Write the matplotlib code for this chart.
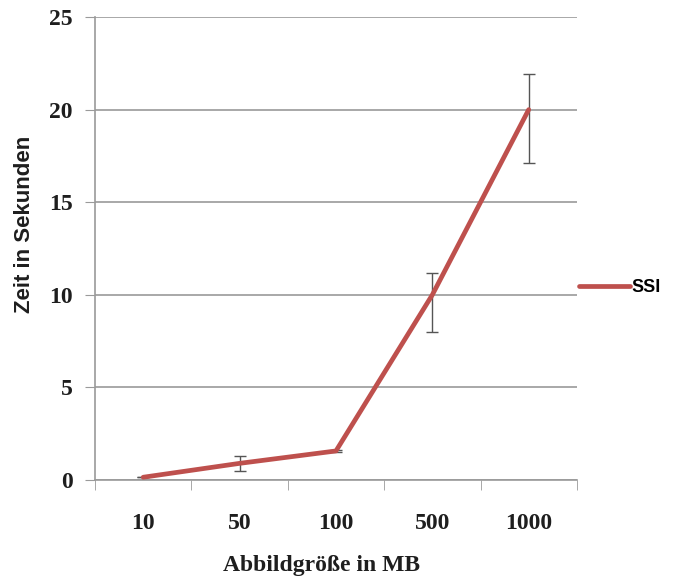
import matplotlib
matplotlib.use("Agg")
import matplotlib.pyplot as plt
import numpy as np

categories = ["10", "50", "100", "500", "1000"]
ssi_times = [0.15, 0.9, 1.57, 10.0, 20.0]
err_lower = [0.0, 0.4, 0.05, 2.0, 2.9]
err_upper = [0.0, 0.4, 0.05, 1.2, 1.9]
y_ticks = [0, 5, 10, 15, 20, 25]

line_color = "#BE504D"
grid_color = "#9A9A9A"
text_color = "#1E1E1E"

fig = plt.figure(figsize=(6.73, 5.81), dpi=100)
ax = fig.add_axes([0.1412, 0.1738, 0.7160, 0.7969])

x = np.arange(len(categories))
ax.errorbar(x, ssi_times, yerr=[err_lower, err_upper], fmt="none",
            ecolor="#555555", elinewidth=1.0, capsize=4, capthick=1.0, zorder=2)
ax.plot(x, ssi_times, color=line_color, linewidth=3.4, solid_capstyle="round",
        label="SSI", zorder=3)

ax.set_xlim(-0.5, len(categories) - 0.5)
ax.set_ylim(0, 25)
ax.set_yticks(y_ticks)
ax.yaxis.grid(True, color=grid_color, linewidth=1.2)
ax.set_axisbelow(True)

ax.set_xticks(x)
ax.set_xticklabels(categories)
ax.set_xticks(np.arange(len(categories) + 1) - 0.5, minor=True)
ax.tick_params(axis="x", which="major", length=0, pad=24)
ax.tick_params(axis="x", which="minor", length=7, color=grid_color, direction="out")
ax.tick_params(axis="y", length=7, color=grid_color, pad=9)

for lbl in ax.get_xticklabels() + ax.get_yticklabels():
    lbl.set_fontfamily("Liberation Serif")
    lbl.set_fontweight("bold")
    lbl.set_fontsize(17)
    lbl.set_color(text_color)

for side in ["top", "right"]:
    ax.spines[side].set_visible(False)
for side in ["left", "bottom"]:
    ax.spines[side].set_color(grid_color)
    ax.spines[side].set_linewidth(1.2)

ax.set_xlabel("Abbildgröße in MB", fontfamily="Liberation Serif", fontweight="bold",
              fontsize=17, color=text_color)
ax.xaxis.set_label_coords(0.471, -0.163)
ax.set_ylabel("Zeit in Sekunden", fontfamily="Liberation Sans", fontweight="bold",
              fontsize=16, color=text_color)
ax.yaxis.set_label_coords(-0.125, 0.553)

ax.legend(loc="center left", bbox_to_anchor=(0.99, 0.415), frameon=False,
          borderaxespad=0, handlelength=2.8, handletextpad=0.1,
          prop={"family": "Liberation Sans", "weight": "bold", "size": 13})

fig.savefig("out.png", dpi=100)
